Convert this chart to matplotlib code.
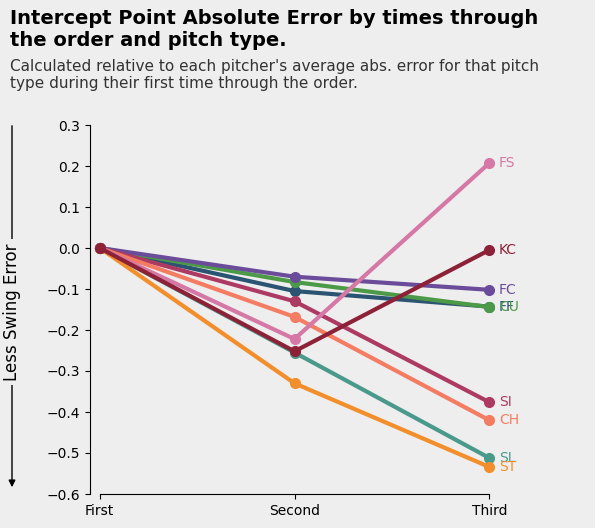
import matplotlib
matplotlib.use("Agg")
import matplotlib.pyplot as plt

stages = ["First", "Second", "Third"]
pitch_types = ["FF", "CU", "FC", "SI", "CH", "SL", "ST", "FS", "KC"]
values = {
    "FF": [0.0, -0.105, -0.143],
    "CU": [0.0, -0.083, -0.144],
    "FC": [0.0, -0.070, -0.102],
    "SI": [0.0, -0.130, -0.376],
    "CH": [0.0, -0.168, -0.420],
    "SL": [0.0, -0.255, -0.512],
    "ST": [0.0, -0.330, -0.534],
    "FS": [0.0, -0.222, 0.207],
    "KC": [0.0, -0.252, -0.005],
}
colors = {
    "FF": "#2b5472",
    "CU": "#4c9a48",
    "FC": "#6b4c9a",
    "SI": "#ad3a62",
    "CH": "#f47c62",
    "SL": "#4a9a8c",
    "ST": "#f28e2b",
    "FS": "#d678a6",
    "KC": "#8c2137",
}
yticks = [0.3, 0.2, 0.1, 0.0, -0.1, -0.2, -0.3, -0.4, -0.5, -0.6]

bg = "#eeeeee"
fig = plt.figure(figsize=(5.95, 5.28), dpi=100, facecolor=bg)
ax = fig.add_axes([90/595, 34/528, 409/595, 369/528], facecolor=bg)

x = list(range(len(stages)))
for pt in pitch_types:
    ax.plot(x, values[pt], color=colors[pt], lw=3, marker="o", ms=7,
            markeredgecolor=colors[pt], solid_capstyle="round")
    ax.annotate(pt, (x[-1], values[pt][-1]), xytext=(7, 0),
                textcoords="offset points", va="center", ha="left",
                color=colors[pt], fontsize=10)

ax.set_xlim(-0.05, 2.05)
ax.set_ylim(-0.6, 0.3)
ax.set_xticks(x)
ax.set_xticklabels(stages)
ax.set_yticks(yticks)
ax.set_yticklabels([f"{v:.1f}".replace("-", "\u2212") for v in yticks])
ax.tick_params(labelsize=10)
for s in ["top", "right"]:
    ax.spines[s].set_visible(False)
ax.spines["bottom"].set_bounds(0, 2)

fig.text(10/595, 1 - 30/528, "Intercept Point Absolute Error by times through\nthe order and pitch type.",
         fontsize=14, fontweight="bold", va="center", ha="left", linespacing=1.2)
fig.text(10/595, 1 - 75/528, "Calculated relative to each pitcher's average abs. error for that pitch\ntype during their first time through the order.",
         fontsize=11, color="#333333", va="center", ha="left", linespacing=1.1)

fig.add_artist(matplotlib.patches.FancyArrowPatch(
    (12/595, 1 - 123/528), (12/595, 1 - 490/528), transform=fig.transFigure,
    arrowstyle="-|>", mutation_scale=10, color="black", lw=1))
fig.text(12/595, 1 - 312/528, "Less Swing Error", rotation=90, fontsize=12,
         va="center", ha="center",
         bbox=dict(facecolor=bg, edgecolor="none", pad=3))

fig.savefig("out.png", dpi=100, facecolor=bg)
